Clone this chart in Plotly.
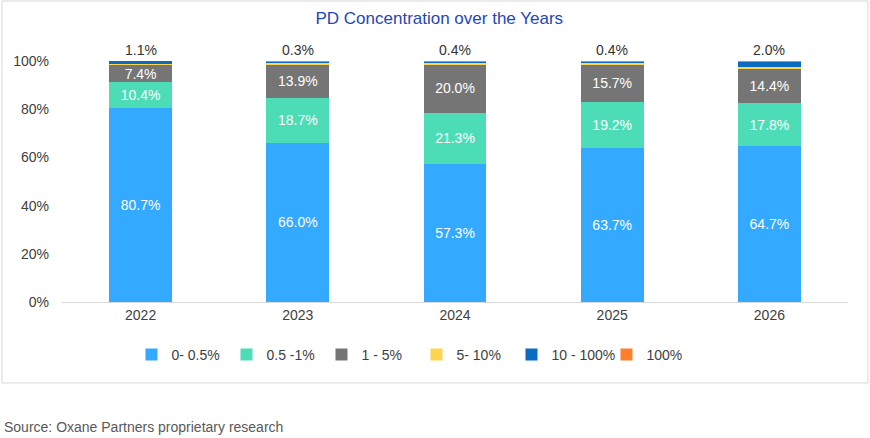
import plotly.graph_objects as go

years = ["2022", "2023", "2024", "2025", "2026"]
series_names = ["0- 0.5%", "0.5 -1%", "1 - 5%", "5- 10%", "10 - 100%", "100%"]
s_0_05 = [80.7, 66.0, 57.3, 63.7, 64.7]
s_05_1 = [10.4, 18.7, 21.3, 19.2, 17.8]
s_1_5 = [7.4, 13.9, 20.0, 15.7, 14.4]
s_5_10 = [0.4, 0.8, 0.6, 0.6, 0.8]
s_10_100 = [1.1, 0.3, 0.4, 0.4, 2.0]
s_100 = [0.0, 0.3, 0.4, 0.4, 0.3]
colors = ["#33A9FF", "#4DDDB6", "#757575", "#FFD54F", "#0A6CC0", "#FF7F2A"]
y_ticks = [0, 20, 40, 60, 80, 100]

values = [s_0_05, s_05_1, s_1_5, s_5_10, s_10_100, s_100]
labelled = [True, True, True, False, False, False]

FONT = "Liberation Sans"
fig = go.Figure()
for name, vals, col, lab in zip(series_names, values, colors, labelled):
    fig.add_trace(go.Bar(
        x=years, y=vals, name=name, marker=dict(color=col, line=dict(width=0)),
        text=[f"{v:.1f}%" for v in vals] if lab else None,
        textposition="inside" if lab else "none",
        insidetextanchor="middle", constraintext="none",
        textfont=dict(color="white", size=14, family=FONT),
        hoverinfo="x+y+name",
    ))

totals = [sum(v[i] for v in values) for i in range(len(years))]
for i, (tot, v) in enumerate(zip(totals, s_10_100)):
    fig.add_annotation(x=i, y=tot, text=f"{v:.1f}%", showarrow=False,
                       yanchor="bottom", yshift=1,
                       font=dict(size=14, color="#333333", family=FONT))

# outer border
fig.add_shape(type="rect", xref="paper", yref="paper",
              x0=-0.0763, x1=1.0254, y0=-0.336, y1=1.249,
              line=dict(color="#D9D9D9", width=1), fillcolor="rgba(0,0,0,0)", layer="below")

fig.add_annotation(xref="paper", yref="paper", x=-0.0763, y=-0.52, xanchor="left", yanchor="middle",
                   text="Source: Oxane Partners proprietary research", showarrow=False,
                   font=dict(size=14, color="#595959", family=FONT))

fig.update_layout(
    width=870, height=438,
    barmode="stack", bargap=0.6,
    paper_bgcolor="white", plot_bgcolor="white",
    margin=dict(l=62, r=22, t=61, b=136),
    title=dict(text="PD Concentration over the Years", x=0.48, xref="paper", xanchor="center",
               y=0.958, yanchor="middle",
               font=dict(size=17, color="#2447B8", family=FONT)),
    font=dict(family=FONT, size=14, color="#404040"),
    showlegend=True,
    legend=dict(orientation="h", x=0.451, xanchor="center", y=-0.22, yanchor="middle",
                entrywidth=50, entrywidthmode="pixels", traceorder="normal",
                font=dict(size=14, color="#404040", family=FONT), itemwidth=30),
    xaxis=dict(type="category", range=[-0.5, len(years) - 0.5], showline=True, linecolor="#D9D9D9",
               linewidth=1, ticks="", showgrid=False,
               tickfont=dict(size=14, color="#404040")),
    yaxis=dict(range=[0, 100], tickvals=y_ticks, ticktext=[f"{t}%" for t in y_ticks],
               showgrid=False, zeroline=False, showline=False, ticks="",
               ticklabelstandoff=12, tickfont=dict(size=14, color="#404040")),
)

fig.write_html("out.html")
